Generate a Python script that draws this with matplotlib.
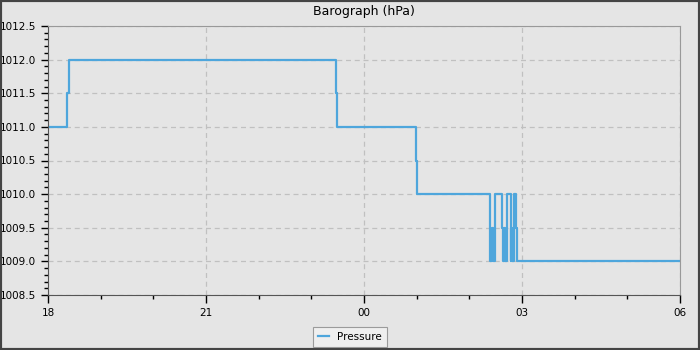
import matplotlib
matplotlib.use("Agg")
import matplotlib.pyplot as plt
import matplotlib.dates as mdates
from matplotlib.patches import Rectangle
from matplotlib.ticker import MultipleLocator, FormatStrFormatter
from datetime import datetime, timedelta

# change points: (time HH:MM, pressure hPa); step holds until next point
times = ["18:00", "18:22", "18:24", "23:28", "23:29", "00:59", "01:00",
         "02:23", "02:24", "02:26", "02:27", "02:29",
         "02:37", "02:38", "02:40", "02:41", "02:43",
         "02:47", "02:48", "02:49", "02:51", "02:53", "02:54", "06:00"]
pressure = [1011.0, 1011.5, 1012.0, 1011.5, 1011.0, 1010.5, 1010.0,
            1009.5, 1009.0, 1009.5, 1009.0, 1010.0,
            1009.5, 1009.0, 1009.5, 1009.0, 1010.0,
            1009.0, 1009.5, 1009.0, 1010.0, 1009.5, 1009.0, 1009.0]

base = datetime(2024, 1, 1)
def to_dt(s):
    h, m = map(int, s.split(":"))
    d = base + timedelta(hours=h, minutes=m)
    if h < 12:
        d += timedelta(days=1)
    return d
x = [to_dt(t) for t in times]

bg = "#e5e5e5"
fig = plt.figure(figsize=(7, 3.5), dpi=100, facecolor=bg)
ax = fig.add_axes([48/700, 55/350, 632/700, 269/350])
ax.set_facecolor(bg)
ax.step(x, pressure, where="post", color="#4ea6dc", lw=1.6, label="Pressure")

ax.set_xlim(to_dt("18:00"), to_dt("06:00"))
ax.set_ylim(1008.5, 1012.5)
ax.xaxis.set_major_locator(mdates.HourLocator(byhour=[0, 3, 6, 18, 21]))
ax.xaxis.set_minor_locator(mdates.HourLocator())
ax.xaxis.set_major_formatter(mdates.DateFormatter("%H"))
ax.yaxis.set_major_locator(MultipleLocator(0.5))
ax.yaxis.set_minor_locator(MultipleLocator(0.1))
ax.yaxis.set_major_formatter(FormatStrFormatter("%.1f"))

ax.grid(True, which="major", color="#c0c0c0", linestyle=(0, (4, 3)), lw=0.9)
ax.tick_params(which="major", direction="out", length=5, width=1, labelsize=7.5, colors="black")
ax.tick_params(which="minor", direction="out", length=3, width=1, colors="black")
ax.tick_params(axis="x", which="major", length=6)
for s in ["top", "right"]:
    ax.spines[s].set_color("#999999")
for s in ["left", "bottom"]:
    ax.spines[s].set_color("#555555")

ax.set_title("Barograph (hPa)", fontsize=9, pad=8)

leg = fig.legend(loc="center", bbox_to_anchor=(350/700, 1 - 337/350), fontsize=7.5,
                 frameon=True, fancybox=False, edgecolor="#888888", facecolor="#f2f2f2",
                 handlelength=1.0, borderpad=0.5)
leg.get_frame().set_linewidth(0.8)

fig.patches.append(Rectangle((0, 0), 1, 1, transform=fig.transFigure, fill=False,
                             edgecolor="#444444", lw=3))
fig.savefig("out.png", dpi=100, facecolor=bg)
